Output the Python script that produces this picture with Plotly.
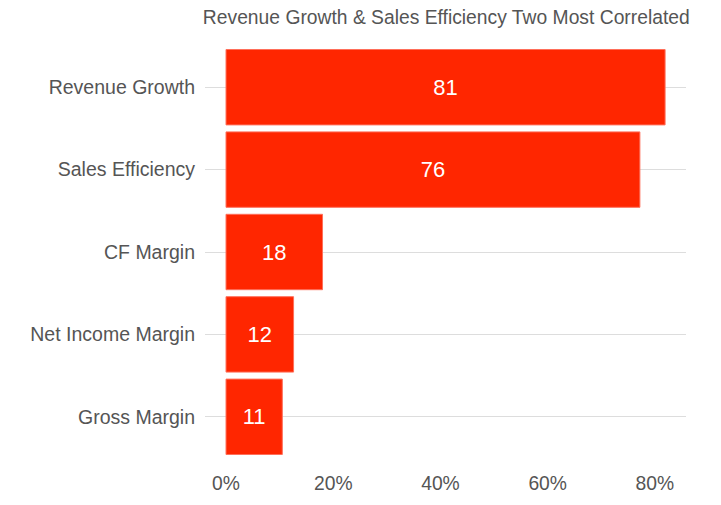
import plotly.graph_objects as go

categories = ["Revenue Growth", "Sales Efficiency", "CF Margin", "Net Income Margin", "Gross Margin"]
values = [81.9, 77.2, 18.0, 12.6, 10.5]
value_labels = ["81", "76", "18", "12", "11"]
tick_vals = [0, 20, 40, 60, 80]
tick_text = ["0%", "20%", "40%", "60%", "80%"]
title_text = "Revenue Growth & Sales Efficiency Two Most Correlated"

fig = go.Figure(go.Bar(
    x=values, y=categories, orientation="h",
    marker=dict(color="#FF2600", line=dict(width=1, color="#FF6F5A")),
    text=value_labels,
    textposition="inside", insidetextanchor="middle",
    textfont=dict(color="white", size=22, family="Liberation Sans"),
    hoverinfo="skip",
))

fig.update_layout(
    width=721, height=505,
    margin=dict(l=205, r=35, t=46, b=47),
    paper_bgcolor="white", plot_bgcolor="white",
    bargap=0.085,
    showlegend=False,
    font=dict(family="Liberation Sans", color="#555555"),
    title=dict(text=title_text, x=0.619, xanchor="center", y=0.966, yanchor="middle",
               font=dict(size=19.3, color="#555555", family="Liberation Sans")),
)
fig.update_xaxes(range=[-3.92, 85.8], tickvals=tick_vals, ticktext=tick_text,
                 showgrid=False, zeroline=False, showline=False, ticks="",
                 tickfont=dict(size=19.3, color="#555555"), ticklabelstandoff=12)
fig.update_yaxes(categoryorder="array", categoryarray=categories[::-1],
                 showgrid=True, gridcolor="#DDDDDD", gridwidth=1,
                 zeroline=False, showline=False, ticks="",
                 tickfont=dict(size=19.5, color="#555555"), ticklabelstandoff=9)

fig.write_html("out.html")
